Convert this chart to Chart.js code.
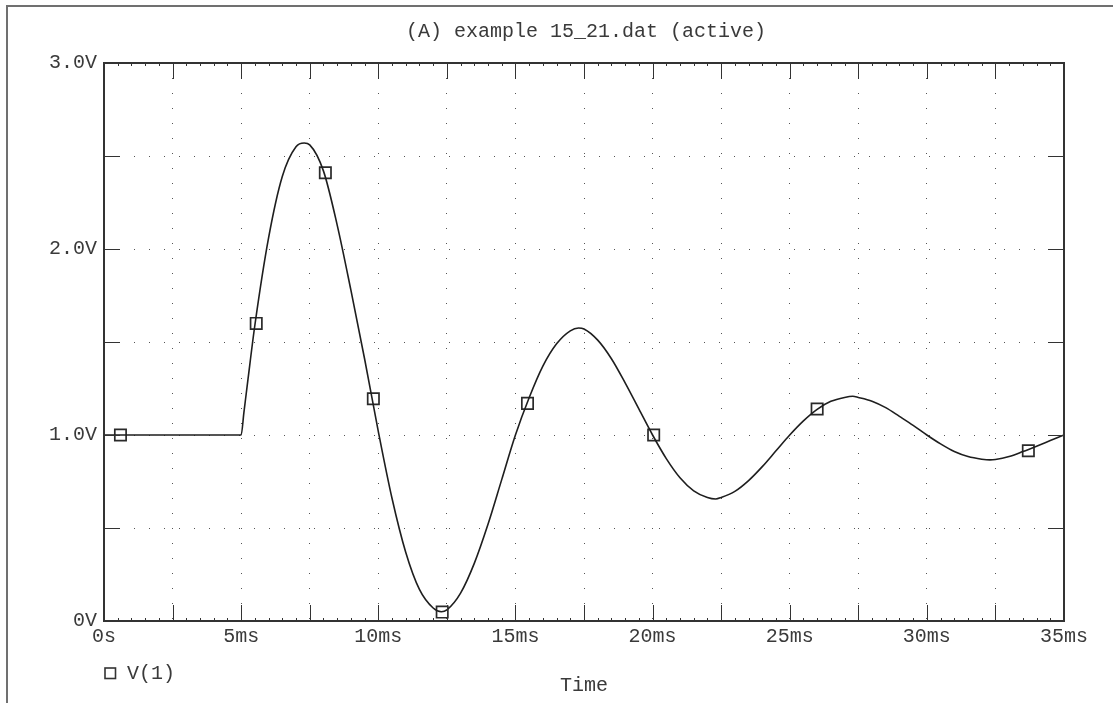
<!DOCTYPE html>
<html>
<head>
<meta charset="utf-8">
<script src="https://cdn.jsdelivr.net/npm/chart.js@4.4.1/dist/chart.umd.min.js"></script>
<style>
  body { margin: 0; background: #fff; }
  #wrap { width: 1113px; height: 703px; position: relative; }
</style>
</head>
<body>
<div id="wrap"><canvas id="myChart"></canvas></div>
<script>
// waveform V(1) (time in ms, volts)
let timeMs = [0, 5, 5.1, 5.25, 5.5, 6, 6.5, 7, 7.3, 7.5, 8, 8.5, 9, 9.5, 10, 10.5, 11, 11.5, 12, 12.3, 12.5,
  13, 13.5, 14, 14.5, 15, 15.5, 16, 16.5, 17, 17.3, 17.5, 18, 18.5, 19, 19.5, 20, 20.5, 21, 21.5, 22, 22.3,
  22.5, 23, 23.5, 24, 24.5, 25, 25.5, 26, 26.5, 27, 27.3, 27.5, 28, 28.5, 29, 29.5, 30, 30.5, 31, 31.5, 32,
  32.3, 32.5, 33, 33.5, 34, 34.5, 35];
let voltage = [1.0, 1.0, 1.12, 1.30, 1.59, 2.06, 2.39, 2.55, 2.57, 2.56, 2.42, 2.13, 1.78, 1.41, 1.02, 0.66,
  0.37, 0.17, 0.07, 0.05, 0.06, 0.15, 0.31, 0.52, 0.76, 1.0, 1.20, 1.37, 1.49, 1.56, 1.575, 1.57, 1.51, 1.41,
  1.28, 1.14, 1.0, 0.873, 0.77, 0.700, 0.664, 0.656, 0.664, 0.697, 0.755, 0.830, 0.915, 1.0, 1.076, 1.138,
  1.181, 1.202, 1.208, 1.202, 1.182, 1.147, 1.100, 1.052, 1.0, 0.952, 0.911, 0.884, 0.870, 0.866, 0.868,
  0.884, 0.911, 0.940, 0.970, 1.0];
// marker squares on the trace
let markerTime = [0.6, 5.55, 8.07, 9.82, 12.33, 15.44, 20.04, 26.0, 33.7];
let markerVolt = [1.0, 1.60, 2.41, 1.195, 0.048, 1.17, 1.0, 1.14, 0.915];
// tick labels
let xTickLabels = ["0s", "5ms", "10ms", "15ms", "20ms", "25ms", "30ms", "35ms"];
let yTickLabels = ["0V", "1.0V", "2.0V", "3.0V"];
let titleText = "(A) example 15_21.dat (active)";

let fontFamily = '"Liberation Mono", "DejaVu Sans Mono", monospace';
let ink = "#3a3a3a";

//extra drawing: outer frame, title, plot box, inward ticks, legend
let scopePlugin = {
  id: "scopePlugin",
  beforeDraw(chart) {
    let ctx = chart.ctx;
    let a = chart.chartArea;
    ctx.save();
    ctx.strokeStyle = "#707070";
    ctx.lineWidth = 2;
    ctx.beginPath();
    ctx.moveTo(7, 703);
    ctx.lineTo(7, 6);
    ctx.lineTo(1113, 6);
    ctx.stroke();
    ctx.fillStyle = ink;
    ctx.font = "20px " + fontFamily;
    ctx.textBaseline = "middle";
    ctx.textAlign = "center";
    ctx.fillText(titleText, (a.left + a.right) / 2 + 2, 32);
    ctx.restore();
  },
  afterDraw(chart) {
    let ctx = chart.ctx;
    let a = chart.chartArea;
    let xs = chart.scales.x;
    let ys = chart.scales.y;
    ctx.save();
    ctx.strokeStyle = "#333";
    ctx.lineWidth = 1;
    ctx.beginPath();
    xs.ticks.forEach(t => {
      let px = Math.round(xs.getPixelForValue(t.value)) + 0.5;
      ctx.moveTo(px, a.bottom); ctx.lineTo(px, a.bottom - 16);
      ctx.moveTo(px, a.top); ctx.lineTo(px, a.top + 16);
    });
    ys.ticks.forEach(t => {
      let py = Math.round(ys.getPixelForValue(t.value)) + 0.5;
      ctx.moveTo(a.left, py); ctx.lineTo(a.left + 16, py);
      ctx.moveTo(a.right, py); ctx.lineTo(a.right - 16, py);
    });
    for (let i = 0; i <= 70; i++) {
      let px = Math.round(xs.getPixelForValue(i * 0.5)) + 0.5;
      ctx.moveTo(px, a.bottom); ctx.lineTo(px, a.bottom - 3);
      ctx.moveTo(px, a.top); ctx.lineTo(px, a.top + 3);
    }
    ctx.stroke();
    ctx.lineWidth = 2;
    ctx.strokeRect(a.left, a.top, a.right - a.left, a.bottom - a.top);

    // legend
    ctx.lineWidth = 1.6;
    ctx.strokeRect(105, 668, 10.5, 10.5);
    ctx.fillStyle = ink;
    ctx.font = "20px " + fontFamily;
    ctx.textBaseline = "middle";
    ctx.textAlign = "left";
    ctx.fillText(chart.data.datasets[0].label, 127, 674);
    ctx.restore();
  }
};

let ctx = document.getElementById("myChart").getContext("2d");
let myChart = new Chart(ctx, {
  type: "scatter",
  data: {
    datasets: [
      {
        label: "V(1)",
        data: timeMs.map((t, i) => ({ x: t, y: voltage[i] })),
        showLine: true,
        borderColor: "#1e1e1e",
        borderWidth: 1.6,
        pointRadius: 0,
        cubicInterpolationMode: "monotone",
      },
      {
        label: "markers",
        data: markerTime.map((t, i) => ({ x: t, y: markerVolt[i] })),
        showLine: false,
        pointStyle: "rect",
        pointRadius: 8,
        pointBorderWidth: 1.7,
        pointBorderColor: "#2a2a2a",
        pointBackgroundColor: "rgba(0,0,0,0)",
      },
    ],
  },
  options: {
    responsive: true,
    maintainAspectRatio: false,
    animation: false,
    events: [],
    layout: { padding: { top: 63, right: 49, bottom: 0, left: 0 } },
    plugins: {
      legend: { display: false },
      tooltip: { enabled: false },
      title: { display: false },
    },
    scales: {
      x: {
        type: "linear",
        min: 0,
        max: 35,
        afterFit: s => { s.height = 82; },
        border: { display: false, dash: [1, 14] },
        grid: { color: "#555", lineWidth: 1, drawTicks: false },
        ticks: {
          stepSize: 2.5,
          padding: 4,
          maxRotation: 0,
          autoSkip: false,
          color: ink,
          font: { family: fontFamily, size: 20 },
          callback: v => (v % 5 === 0 ? xTickLabels[v / 5] : ""),
        },
        title: {
          display: true,
          text: "Time",
          color: ink,
          font: { family: fontFamily, size: 20 },
          padding: { top: 0, bottom: 5 },
        },
      },
      y: {
        type: "linear",
        min: 0,
        max: 3,
        afterFit: s => { s.width = 104; },
        border: { display: false, dash: [1, 14] },
        grid: { color: "#555", lineWidth: 1, drawTicks: false },
        ticks: {
          stepSize: 0.5,
          padding: 7,
          autoSkip: false,
          color: ink,
          font: { family: fontFamily, size: 20 },
          callback: v => (v % 1 === 0 ? yTickLabels[v] : ""),
        },
      },
    },
  },
  plugins: [scopePlugin],
});
</script>
</body>
</html>
